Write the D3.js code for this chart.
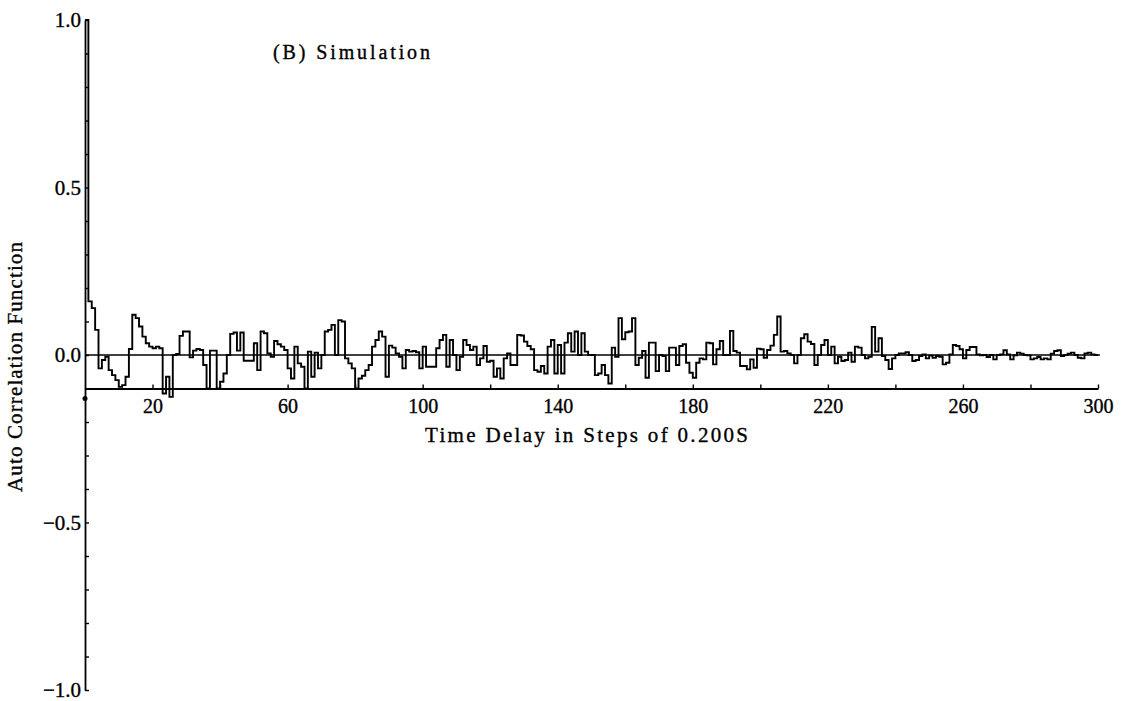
<!DOCTYPE html>
<html>
<head>
<meta charset="utf-8">
<script src="https://cdn.jsdelivr.net/npm/d3@7"></script>
<style>
  html, body { margin: 0; padding: 0; background: #fff; }
  svg { display: block; }
  text { font-family: 'Liberation Serif', 'DejaVu Serif', serif; fill: #000; stroke: #000; stroke-width: 0.35px; }
</style>
</head>
<body>
<div id="chart"></div>
<script>
// Auto correlation values, one per lag (lag 0 .. 299).
const acf = [
  1.0, 0.16, 0.14, 0.075, -0.04, -0.015, -0.005, -0.045, -0.06, -0.075,
  -0.095, -0.09, -0.065, 0.018, 0.12, 0.11, 0.085, 0.055, 0.035, 0.025,
  0.02, 0.025, 0.02, -0.115, -0.065, -0.125, 0.0, 0.003, 0.057, 0.07,
  0.07, -0.007, 0.013, 0.018, 0.015, -0.03, -0.1, 0.013, 0.013, -0.1,
  -0.08, -0.055, 0.0, 0.063, 0.067, 0.013, 0.067, -0.017, -0.017, -0.017,
  0.035, -0.045, 0.07, 0.065, 0.005, -0.005, 0.042, 0.032, 0.025, 0.015,
  -0.04, -0.07, 0.025, -0.025, -0.035, -0.1, 0.01, -0.065, 0.007, -0.04,
  0.0, 0.07, 0.075, 0.09, 0.0, 0.104, 0.1, -0.01, -0.025, -0.04,
  -0.1, -0.07, -0.062, -0.045, -0.03, 0.025, 0.045, 0.07, 0.055, -0.065,
  0.028, 0.022, 0.005, -0.005, -0.04, 0.015, 0.01, 0.012, 0.008, -0.04,
  0.025, -0.035, -0.035, -0.035, 0.02, 0.045, 0.06, -0.035, 0.045, 0.0,
  -0.045, -0.005, 0.045, 0.03, 0.015, 0.025, -0.03, -0.01, 0.027, -0.02,
  -0.017, -0.065, -0.04, -0.07, -0.01, 0.005, -0.03, -0.03, 0.06, 0.058,
  0.04, 0.027, 0.017, -0.045, -0.05, -0.033, -0.055, 0.025, 0.045, -0.055,
  0.03, -0.055, 0.037, 0.065, 0.01, 0.07, 0.0, 0.065, 0.01, 0.0,
  0.0, -0.06, -0.055, -0.03, -0.06, -0.085, 0.022, -0.005, 0.11, 0.047,
  0.068, 0.07, 0.11, -0.03, -0.008, 0.012, -0.068, 0.037, 0.037, -0.048,
  0.0, -0.003, -0.048, 0.022, 0.022, -0.03, 0.027, 0.032, -0.023, -0.053,
  -0.068, -0.023, -0.01, -0.013, 0.037, 0.035, -0.028, 0.017, 0.042, 0.0,
  0.0, 0.072, 0.012, 0.007, -0.033, -0.033, -0.043, -0.013, -0.038, 0.019,
  0.017, -0.008, 0.015, 0.028, 0.06, 0.115, 0.01, 0.012, 0.005, 0.0,
  -0.025, 0.0, 0.05, 0.062, 0.04, 0.033, -0.03, 0.0, 0.03, 0.045,
  0.0, 0.025, -0.025, -0.005, -0.018, -0.015, 0.007, -0.02, 0.025, 0.022,
  0.0, -0.01, -0.005, 0.084, 0.01, 0.05, -0.003, -0.015, -0.042, -0.01,
  0.0, 0.005, 0.005, 0.008, 0.0, -0.018, -0.015, -0.003, 0.002, -0.01,
  -0.002, -0.008, -0.003, -0.005, -0.028, -0.023, 0.002, 0.03, 0.027, 0.017,
  -0.01, 0.015, 0.024, 0.024, 0.002, -0.001, 0.0, -0.006, 0.0, -0.013,
  0.0, 0.002, 0.014, 0.002, -0.013, -0.001, 0.007, 0.004, 0.0, -0.001,
  -0.013, -0.01, -0.006, -0.013, -0.01, -0.013, 0.004, 0.012, 0.014, -0.003,
  0.0, 0.004, 0.007, 0.0, -0.008, -0.01, 0.005, 0.007, 0.002, 0.0
];

const yTicks = d3.range(-10, 11).map(i => i / 10);
const yLabelTicks = [-1.0, -0.5, 0.0, 0.5, 1.0];
const xTicks = d3.range(20, 301, 20);
const xLabelTicks = [20, 60, 100, 140, 180, 220, 260, 300];

const titleText = '(B) Simulation';
const xTitle = 'Time Delay in Steps of 0.200S';
const yTitle = 'Auto Correlation Function';

const width = 1123;
const height = 701;
const axisLevel = -0.1;

const svg = d3.select('#chart')
  .append('svg')
  .attr('width', width)
  .attr('height', height);

const x = d3.scaleLinear().domain([0, 300]).range([85, 1098]);
const y = d3.scaleLinear().domain([-1, 1]).range([690, 20]);

// Y axis: minor ticks every 0.1 pointing inward, labels on the majors only.
const yAxis = d3.axisLeft(y)
  .tickValues(yTicks)
  .tickSizeInner(-4)
  .tickSizeOuter(0)
  .tickPadding(4)
  .tickFormat(d => yLabelTicks.some(v => Math.abs(v - d) < 1e-9) ? d3.format('.1f')(d) : '');

svg.append('g')
  .attr('class', 'y-axis')
  .attr('transform', `translate(${x(0)},0)`)
  .call(yAxis);

// X axis drawn at -0.1, ticks pointing up.
const xAxis = d3.axisBottom(x)
  .tickValues(xTicks)
  .tickSizeInner(-4)
  .tickSizeOuter(0)
  .tickPadding(10)
  .tickFormat(d => xLabelTicks.includes(d) ? d : '');

svg.append('g')
  .attr('class', 'x-axis')
  .attr('transform', `translate(0,${y(axisLevel)})`)
  .call(xAxis);

svg.selectAll('.domain').attr('stroke', '#000').attr('stroke-width', 1.8);
svg.selectAll('.tick line').attr('stroke', '#000').attr('stroke-width', 1.4);
svg.selectAll('.tick text')
  .style('font-family', "'Liberation Serif', serif")
  .style('font-size', '20px')
  .attr('fill', '#000');
svg.selectAll('.y-axis .tick text').style('font-size', '21px');

// zero reference line
svg.append('line')
  .attr('x1', x(0))
  .attr('x2', x(300) + 2)
  .attr('y1', y(0))
  .attr('y2', y(0))
  .attr('stroke', '#000')
  .attr('stroke-width', 1.5);

// origin marker below the axis
svg.append('circle')
  .attr('cx', x(0))
  .attr('cy', y(axisLevel) + 10)
  .attr('r', 2.5)
  .attr('fill', '#000');

// step trace of the correlation function
const points = acf.map((v, i) => [i, v]);
points.push([acf.length, acf[acf.length - 1]]);

const line = d3.line()
  .x(d => x(d[0]))
  .y(d => y(d[1]))
  .curve(d3.curveStepAfter);

svg.append('path')
  .datum(points)
  .attr('fill', 'none')
  .attr('stroke', '#000')
  .attr('stroke-width', 1.9)
  .attr('stroke-linejoin', 'miter')
  .attr('d', line);

// titles
svg.append('text')
  .attr('x', 273)
  .attr('y', 59)
  .attr('textLength', 157)
  .attr('lengthAdjust', 'spacing')
  .style('font-size', '20px')
  .text(titleText);

svg.append('text')
  .attr('x', 425)
  .attr('y', 442)
  .attr('textLength', 323)
  .attr('lengthAdjust', 'spacing')
  .style('font-size', '21px')
  .text(xTitle);

svg.append('text')
  .attr('transform', 'translate(22,367) rotate(-90)')
  .attr('text-anchor', 'middle')
  .attr('textLength', 250)
  .attr('lengthAdjust', 'spacing')
  .style('font-size', '21px')
  .text(yTitle);
</script>
</body>
</html>
